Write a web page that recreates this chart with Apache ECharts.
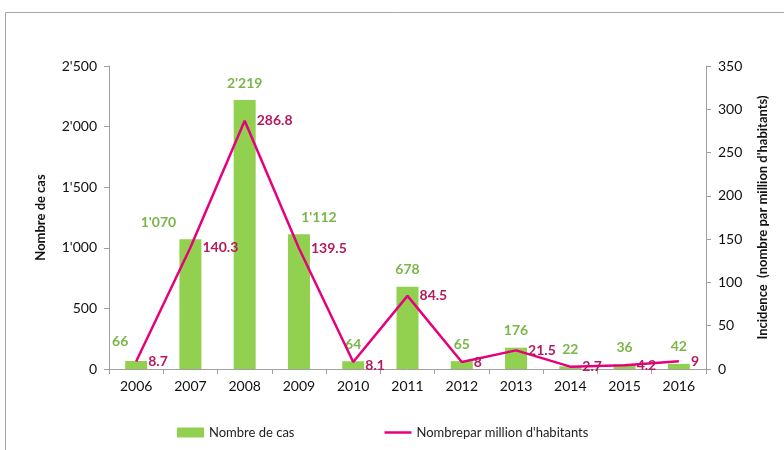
<!DOCTYPE html>
<html>
<head>
<meta charset="utf-8">
<script src="https://cdn.jsdelivr.net/npm/echarts@6/dist/echarts.min.js"></script>
<style>
html, body { margin: 0; padding: 0; background: #fff; }
#main { width: 784px; height: 450px; }
</style>
</head>
<body>
<div id="main"></div>
<script>
var years = ['2006','2007','2008','2009','2010','2011','2012','2013','2014','2015','2016'];
var cases = [66, 1070, 2219, 1112, 64, 678, 65, 176, 22, 36, 42];
var incidence = [8.7, 140.3, 286.8, 139.5, 8.1, 84.5, 8, 21.5, 2.7, 4.2, 9];

// label nudges, like the hand-placed labels of the original
var caseLabelShift = { 0: [-16, -3], 1: [-32, 0], 3: [20, 0] };
var rateLabelShift = { 4: [0, 3] };

var myChart = echarts.init(document.getElementById('main'));

function apos(v) {
  return String(v).replace(/\B(?=(\d{3})+(?!\d))/g, "'");
}

var font = 'Lato';

var caseData = cases.map(function (v, i) {
  var d = { value: v };
  if (caseLabelShift[i]) d.label = { offset: caseLabelShift[i] };
  return d;
});
var rateData = incidence.map(function (v, i) {
  var d = { value: v };
  if (rateLabelShift[i]) d.label = { offset: rateLabelShift[i] };
  return d;
});

var option = {
  animation: false,
  textStyle: { fontFamily: font },
  graphic: [
    {
      type: 'polyline',
      shape: { points: [[5.5, 450], [5.5, 12.5], [784, 12.5]] },
      style: { stroke: '#a6a6a6', lineWidth: 1, fill: null },
      silent: true
    }
  ],
  legend: {
    top: 421,
    left: 172,
    itemGap: 90,
    itemWidth: 27,
    itemHeight: 10,
    textStyle: { fontFamily: font, fontSize: 13, color: '#222' },
    data: [
      { name: 'Nombre de cas', icon: 'rect' },
      { name: "Nombrepar million d'habitants", icon: 'path://M0,0 L27,0 L27,2.5 L0,2.5 Z' }
    ]
  },
  grid: { left: 109, right: 78, top: 66, bottom: 81 },
  xAxis: {
    type: 'category',
    data: years,
    axisLine: { lineStyle: { color: '#a0a0a0' } },
    axisTick: { show: true, length: 5, lineStyle: { color: '#a0a0a0' } },
    axisLabel: { color: '#111', fontSize: 14, margin: 10, fontFamily: font }
  },
  yAxis: [
    {
      type: 'value',
      name: 'Nombre de cas',
      nameLocation: 'middle',
      nameGap: 62,
      nameTextStyle: { fontWeight: 'bold', fontSize: 13, color: '#111', fontFamily: font },
      min: 0, max: 2500, interval: 500,
      splitLine: { show: false },
      axisLine: { show: true, lineStyle: { color: '#a0a0a0' } },
      axisTick: { show: true, length: 5, lineStyle: { color: '#a0a0a0' } },
      axisLabel: { color: '#111', fontSize: 14, margin: 12, formatter: apos, fontFamily: font }
    },
    {
      type: 'value',
      name: "Incidence  (nombre par million d'habitants)",
      nameLocation: 'middle',
      nameGap: 50,
      nameRotate: 90,
      nameTextStyle: { fontWeight: 'bold', fontSize: 13, color: '#111', fontFamily: font },
      min: 0, max: 350, interval: 50,
      splitLine: { show: false },
      axisLine: { show: true, lineStyle: { color: '#a0a0a0' } },
      axisTick: { show: true, length: 5, lineStyle: { color: '#a0a0a0' } },
      axisLabel: { color: '#111', fontSize: 14, margin: 12, fontFamily: font }
    }
  ],
  series: [
    {
      name: 'Nombre de cas',
      type: 'bar',
      data: caseData,
      barWidth: 22,
      itemStyle: { color: '#92d050' },
      label: {
        show: true,
        position: 'top',
        distance: 10,
        color: '#7ab648',
        fontWeight: 'bold',
        fontSize: 14,
        fontFamily: font,
        formatter: function (p) { return apos(p.value); }
      }
    },
    {
      name: "Nombrepar million d'habitants",
      type: 'line',
      yAxisIndex: 1,
      data: rateData,
      symbol: 'circle',
      symbolSize: 0.1,
      showSymbol: true,
      lineStyle: { color: '#e6007e', width: 2.5 },
      itemStyle: { color: '#e6007e' },
      label: {
        show: true,
        position: 'right',
        distance: 12,
        color: '#b5195e',
        fontWeight: 'bold',
        fontSize: 14,
        fontFamily: font
      }
    }
  ]
};

myChart.setOption(option);
</script>
</body>
</html>
